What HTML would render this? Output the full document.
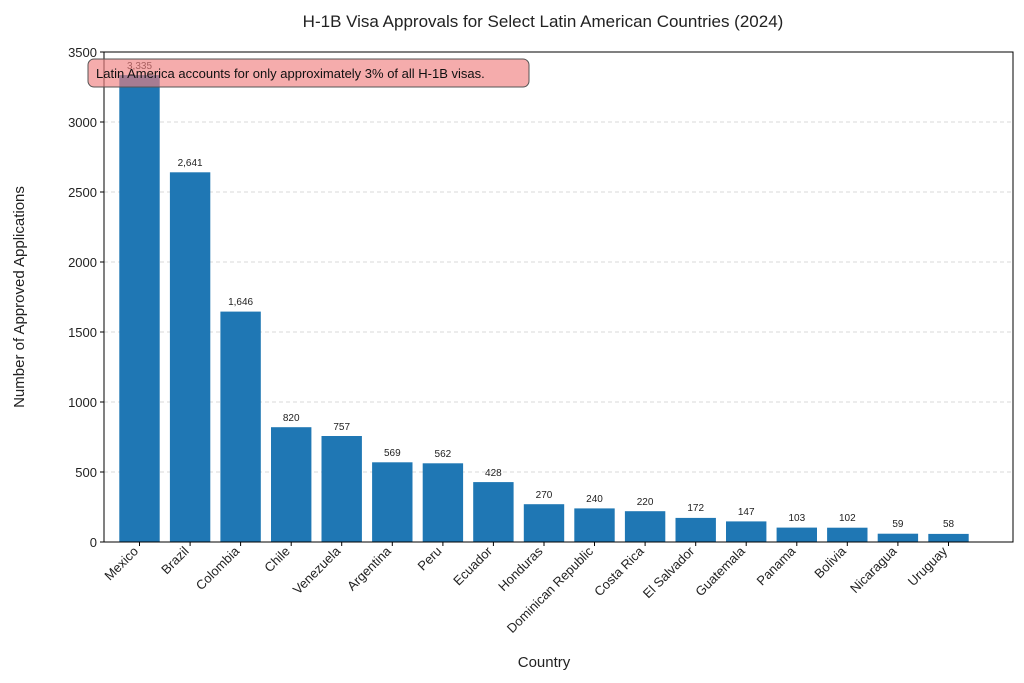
<!DOCTYPE html>
<html><head><meta charset="utf-8"><style>body{margin:0;background:#fff}svg{display:block;font-family:"Liberation Sans",sans-serif}</style></head><body>
<svg width="1024" height="683" xmlns="http://www.w3.org/2000/svg">
<text x="543" y="27" font-size="17" text-anchor="middle" fill="#222">H-1B Visa Approvals for Select Latin American Countries (2024)</text>
<g stroke="#ccc" stroke-dasharray="4,3" stroke-width="0.8">
<line x1="104" x2="1013" y1="472" y2="472"/><line x1="104" x2="1013" y1="402" y2="402"/><line x1="104" x2="1013" y1="332" y2="332"/><line x1="104" x2="1013" y1="262" y2="262"/><line x1="104" x2="1013" y1="192" y2="192"/><line x1="104" x2="1013" y1="122" y2="122"/>
</g>
<g fill="#1f77b4">
<rect x="119.3" y="75.1" width="40.4" height="466.9"/>
<rect x="169.9" y="172.3" width="40.4" height="369.7"/>
<rect x="220.4" y="311.6" width="40.4" height="230.4"/>
<rect x="271" y="427.2" width="40.4" height="114.8"/>
<rect x="321.5" y="436" width="40.4" height="106"/>
<rect x="372.1" y="462.3" width="40.4" height="79.7"/>
<rect x="422.7" y="463.3" width="40.4" height="78.7"/>
<rect x="473.2" y="482.1" width="40.4" height="59.9"/>
<rect x="523.8" y="504.2" width="40.4" height="37.8"/>
<rect x="574.3" y="508.4" width="40.4" height="33.6"/>
<rect x="624.9" y="511.2" width="40.4" height="30.8"/>
<rect x="675.5" y="517.9" width="40.4" height="24.1"/>
<rect x="726" y="521.4" width="40.4" height="20.6"/>
<rect x="776.6" y="527.6" width="40.4" height="14.4"/>
<rect x="827.1" y="527.7" width="40.4" height="14.3"/>
<rect x="877.7" y="533.7" width="40.4" height="8.3"/>
<rect x="928.3" y="533.9" width="40.4" height="8.1"/>
</g>
<g font-size="10" text-anchor="middle" fill="#222">
<text x="139.5" y="69">3,335</text><text x="190.1" y="166">2,641</text><text x="240.6" y="305">1,646</text><text x="291.2" y="421">820</text><text x="341.7" y="430">757</text><text x="392.3" y="456">569</text><text x="442.9" y="457">562</text><text x="493.4" y="476">428</text><text x="544" y="498">270</text><text x="594.5" y="502">240</text><text x="645.1" y="505">220</text><text x="695.7" y="511">172</text><text x="746.2" y="515">147</text><text x="796.8" y="521">103</text><text x="847.3" y="521">102</text><text x="897.9" y="527">59</text><text x="948.5" y="527">58</text>
</g>
<rect x="104" y="52" width="909" height="490" fill="none" stroke="#000" stroke-width="1"/>
<g stroke="#000"><line x1="100" x2="104" y1="542" y2="542"/><line x1="100" x2="104" y1="472" y2="472"/><line x1="100" x2="104" y1="402" y2="402"/><line x1="100" x2="104" y1="332" y2="332"/><line x1="100" x2="104" y1="262" y2="262"/><line x1="100" x2="104" y1="192" y2="192"/><line x1="100" x2="104" y1="122" y2="122"/><line x1="100" x2="104" y1="52" y2="52"/></g>
<g font-size="13" text-anchor="end" fill="#222">
<text x="97" y="547">0</text><text x="97" y="477">500</text><text x="97" y="407">1000</text><text x="97" y="337">1500</text><text x="97" y="267">2000</text><text x="97" y="197">2500</text><text x="97" y="127">3000</text><text x="97" y="57">3500</text>
</g>
<g stroke="#000">
<line x1="139.5" x2="139.5" y1="542" y2="546"/><line x1="190.1" x2="190.1" y1="542" y2="546"/><line x1="240.6" x2="240.6" y1="542" y2="546"/><line x1="291.2" x2="291.2" y1="542" y2="546"/><line x1="341.7" x2="341.7" y1="542" y2="546"/><line x1="392.3" x2="392.3" y1="542" y2="546"/><line x1="442.9" x2="442.9" y1="542" y2="546"/><line x1="493.4" x2="493.4" y1="542" y2="546"/><line x1="544" x2="544" y1="542" y2="546"/><line x1="594.5" x2="594.5" y1="542" y2="546"/><line x1="645.1" x2="645.1" y1="542" y2="546"/><line x1="695.7" x2="695.7" y1="542" y2="546"/><line x1="746.2" x2="746.2" y1="542" y2="546"/><line x1="796.8" x2="796.8" y1="542" y2="546"/><line x1="847.3" x2="847.3" y1="542" y2="546"/><line x1="897.9" x2="897.9" y1="542" y2="546"/><line x1="948.5" x2="948.5" y1="542" y2="546"/>
</g>
<g font-size="13" text-anchor="end" fill="#222">
<text transform="translate(139,552) rotate(-45)">Mexico</text>
<text transform="translate(189.6,552) rotate(-45)">Brazil</text>
<text transform="translate(240.1,552) rotate(-45)">Colombia</text>
<text transform="translate(290.7,552) rotate(-45)">Chile</text>
<text transform="translate(341.2,552) rotate(-45)">Venezuela</text>
<text transform="translate(391.8,552) rotate(-45)">Argentina</text>
<text transform="translate(442.4,552) rotate(-45)">Peru</text>
<text transform="translate(492.9,552) rotate(-45)">Ecuador</text>
<text transform="translate(543.5,552) rotate(-45)">Honduras</text>
<text transform="translate(594,552) rotate(-45)">Dominican Republic</text>
<text transform="translate(644.6,552) rotate(-45)">Costa Rica</text>
<text transform="translate(695.2,552) rotate(-45)">El Salvador</text>
<text transform="translate(745.7,552) rotate(-45)">Guatemala</text>
<text transform="translate(796.3,552) rotate(-45)">Panama</text>
<text transform="translate(846.8,552) rotate(-45)">Bolivia</text>
<text transform="translate(897.4,552) rotate(-45)">Nicaragua</text>
<text transform="translate(948,552) rotate(-45)">Uruguay</text>
</g>
<text x="544" y="667" font-size="15" text-anchor="middle" fill="#222">Country</text>
<text transform="translate(24,297) rotate(-90)" font-size="15" text-anchor="middle" fill="#222">Number of Approved Applications</text>
<rect x="88" y="59" width="441" height="28" rx="6" fill="#f08080" fill-opacity="0.65" stroke="#555" stroke-width="1"/>
<text x="96" y="78" font-size="13" fill="#111">Latin America accounts for only approximately 3% of all H-1B visas.</text>
</svg>
</body></html>
